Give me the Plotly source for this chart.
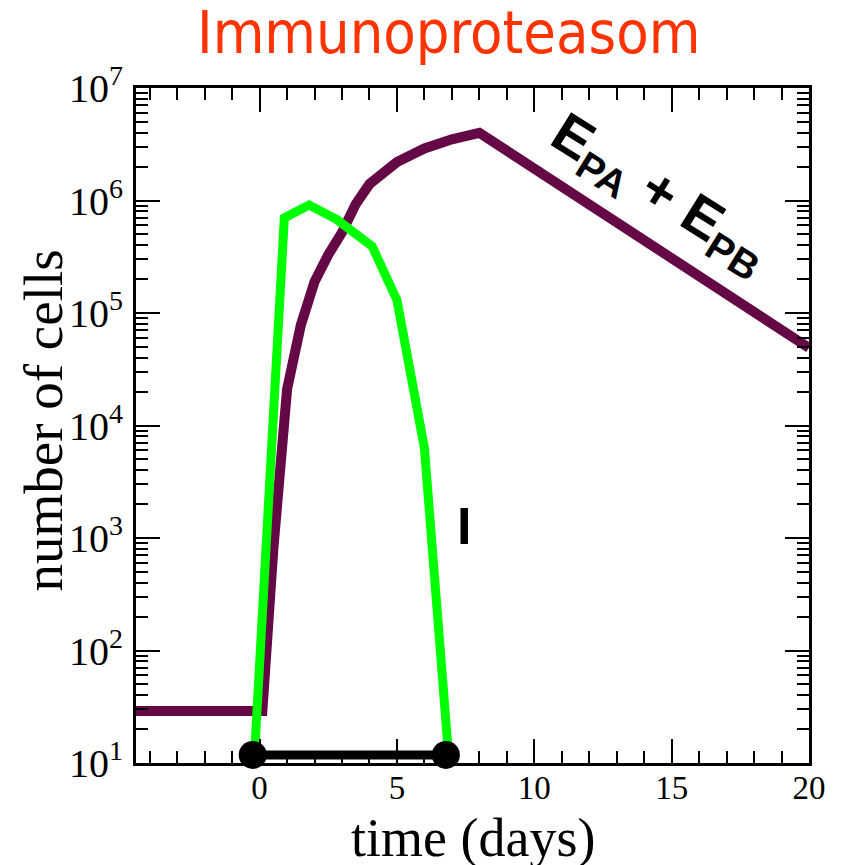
import plotly.graph_objects as go

# Effector cells E_PA + E_PB (purple)
eff_days = [-4.5, 0.1, 0.5, 1.0, 1.5, 2.0, 2.5, 3.0, 3.5, 4.0, 5.0, 6.0, 7.0, 8.0, 20.0]
eff_cells = [29, 29, 8.0e2, 2.1e4, 7.8e4, 1.9e5, 3.3e5, 5.2e5, 9.3e5, 1.4e6, 2.2e6, 2.9e6, 3.5e6, 4.0e6, 4.9e4]

# Infection I (green)
inf_days = [-0.2, 0.9, 1.8, 2.8, 4.1, 5.0, 6.0, 6.9]
inf_cells = [10, 7.0e5, 9.1e5, 6.8e5, 3.9e5, 1.3e5, 6.3e3, 10]

# Infection duration bar (black)
bar_days = [-0.25, 6.78]
bar_cells = [11.8, 11.8]

x_ticks = [0, 5, 10, 15, 20]
y_ticks = [1e1, 1e2, 1e3, 1e4, 1e5, 1e6, 1e7]
y_ticklabels = ["10<sup>%d</sup>" % k for k in range(1, 8)]

fig = go.Figure()
fig.add_trace(go.Scatter(x=eff_days, y=eff_cells, mode="lines",
                         line=dict(color="#640846", width=10), showlegend=False))
fig.add_trace(go.Scatter(x=inf_days, y=inf_cells, mode="lines",
                         line=dict(color="#00FF00", width=9), showlegend=False))
fig.add_trace(go.Scatter(x=bar_days, y=bar_cells, mode="lines+markers",
                         line=dict(color="black", width=9),
                         marker=dict(color="black", size=28),
                         showlegend=False, cliponaxis=False))

axis_common = dict(showline=True, linecolor="black", linewidth=3, mirror="ticks",
                   ticks="inside", tickcolor="black", tickwidth=2, ticklen=24,
                   showgrid=False, zeroline=False)

fig.update_xaxes(range=[-4.5, 20], tickmode="array", tickvals=x_ticks,
                 ticktext=[str(v) for v in x_ticks],
                 tickfont=dict(family="Liberation Serif", size=33, color="black"),
                 minor=dict(dtick=1, tick0=0, ticks="inside", ticklen=12, tickwidth=2,
                            tickcolor="black", showgrid=False),
                 ticklabelstandoff=-7,
                 **axis_common)
fig.update_yaxes(type="log", range=[1, 7], tickmode="array", tickvals=y_ticks,
                 ticktext=y_ticklabels,
                 tickfont=dict(family="Liberation Serif", size=40, color="black"),
                 minor=dict(dtick="D1", ticks="inside", ticklen=12, tickwidth=2,
                            tickcolor="black", showgrid=False),
                 ticklabelstandoff=2,
                 **axis_common)

# plot area in page pixels: x 136..809, y 88..763 (page body adds an 8px offset)
annotations = [
    dict(text="Immunoproteasom", xref="paper", yref="paper",
         x=(448 - 136) / (809 - 136), y=1 + (88 - 32) / (763 - 88),
         xanchor="center", yanchor="middle", showarrow=False,
         font=dict(family="Liberation Sans Narrow, DejaVu Sans Condensed, Liberation Sans, sans-serif",
                   size=59, color="#FF3300")),
    dict(text="time (days)", xref="paper", yref="paper", x=0.5, y=0,
         xanchor="center", yanchor="middle", yshift=-75, showarrow=False,
         font=dict(family="Liberation Serif", size=54, color="black")),
    dict(text="number of cells", xref="paper", yref="paper", x=0, y=0.5,
         xanchor="center", yanchor="middle", xshift=-93, yshift=5, textangle=-90,
         showarrow=False,
         font=dict(family="Liberation Serif", size=55, color="black")),
    dict(text="I", x=7.43, y=3.107, xref="x", yref="y", showarrow=False,
         font=dict(family="Liberation Sans", size=52, color="black", weight=700)),
    dict(text="E<sub>PA</sub> + E<sub>PB</sub>", x=14.55, y=6.05, xref="x", yref="y",
         textangle=32, showarrow=False,
         font=dict(family="Liberation Sans", size=56, color="black", weight=700)),
]

fig.update_layout(width=843, height=865, margin=dict(l=128, r=42, t=80, b=110),
                  plot_bgcolor="white", paper_bgcolor="white",
                  annotations=annotations)

fig.write_html("out.html")
